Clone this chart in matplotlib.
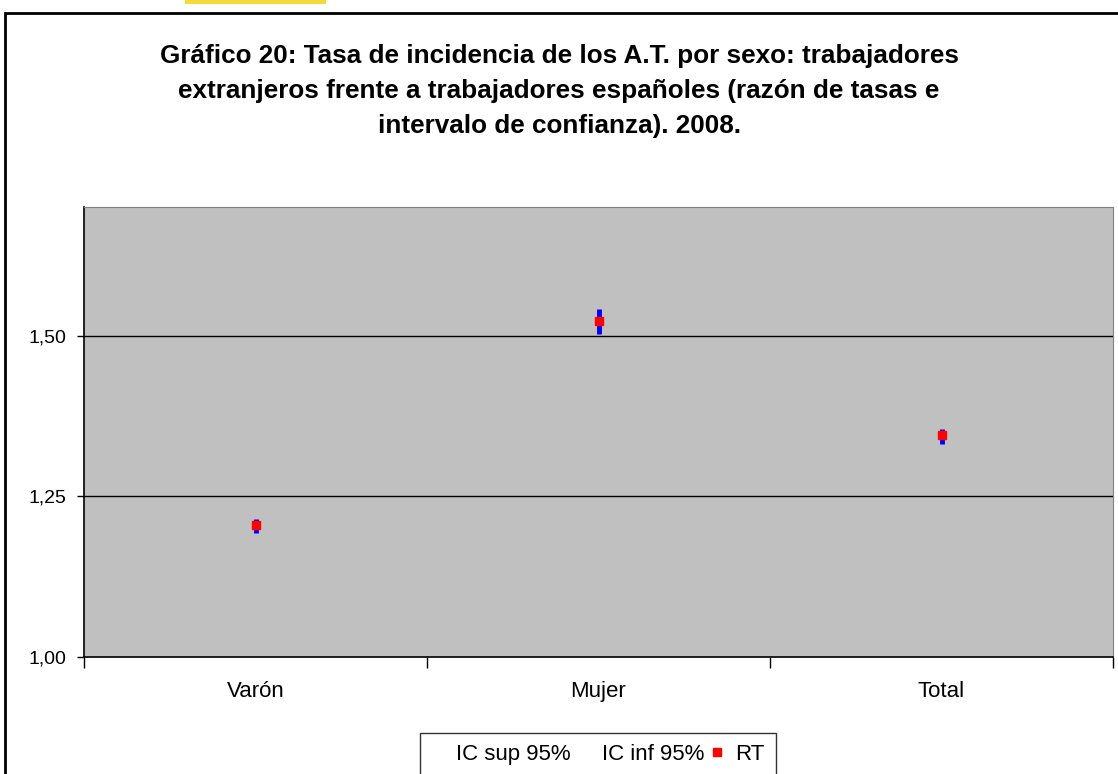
import numpy as np
import matplotlib.pyplot as plt
from matplotlib.lines import Line2D
from matplotlib.patches import Rectangle

plt.rcParams['font.family'] = ['Liberation Sans', 'DejaVu Sans']

# datos
categorias = ["Varón", "Mujer", "Total"]
rt = [1.205, 1.522, 1.345]
ic_sup = [1.214, 1.542, 1.354]
ic_inf = [1.193, 1.502, 1.331]
yticks = [1.00, 1.25, 1.50]
ytick_labels = ["1,00", "1,25", "1,50"]
titulo = ("Gráfico 20: Tasa de incidencia de los A.T. por sexo: trabajadores\n"
          "extranjeros frente a trabajadores españoles (razón de tasas e\n"
          "intervalo de confianza). 2008.")

fig = plt.figure(figsize=(11.18, 7.74), dpi=100)

# marco exterior y barra amarilla de arriba
fig.patches.append(Rectangle((5/1118, -0.05), 1.2, 1 - 13/774 + 0.05,
                             transform=fig.transFigure, fill=False,
                             edgecolor='black', linewidth=2))
fig.patches.append(Rectangle((185/1118, 1 - 4/774), 141/1118, 4/774,
                             transform=fig.transFigure, facecolor='#F5DA3C',
                             edgecolor='none'))

ax = fig.add_axes([84/1118, 117/774, 1029/1118, 450/774])
ax.set_facecolor('#C0C0C0')

x = np.arange(1, len(categorias) + 1)
ax.vlines(x, ic_inf, ic_sup, color='blue', linewidth=3.5, zorder=3)
ax.plot(x, rt, linestyle='none', marker='s', color='red', markersize=5.5, zorder=4)

ax.set_xlim(0.5, len(categorias) + 0.5)
ax.set_ylim(1.0, 1.70)

ax.set_yticks(yticks)
ax.set_yticklabels(ytick_labels)
ax.tick_params(axis='y', direction='out', length=5, width=1, pad=8, labelsize=14)
for yv in yticks[1:]:
    ax.axhline(yv, color='black', linewidth=1, zorder=1)

ax.set_xticks(np.arange(0.5, len(categorias) + 1, 1.0))
ax.set_xticklabels([])
ax.set_xticks(x, minor=True)
ax.set_xticklabels(categorias, minor=True)
ax.tick_params(axis='x', which='major', direction='out', length=8, width=1)
ax.tick_params(axis='x', which='minor', length=0, pad=17, labelsize=16)

for s in ['top', 'right']:
    ax.spines[s].set_color('#808080')
for s in ['left', 'bottom']:
    ax.spines[s].set_color('black')
    ax.spines[s].set_linewidth(1.2)

fig.text(0.5, 1 - 44/774, titulo, ha='center', va='top', fontsize=18.8,
         fontweight='bold', linespacing=1.57)

handles = [Line2D([], [], linestyle='none'),
           Line2D([], [], linestyle='none'),
           Line2D([], [], linestyle='none', marker='s', color='red', markersize=5.5)]
leg = fig.legend(handles, ["IC sup 95%", "IC inf 95%", "RT"], ncol=3,
                 loc='upper center', bbox_to_anchor=(598/1118, 1 - 733/774),
                 fontsize=16, frameon=True, fancybox=False, edgecolor='black',
                 handlelength=0.6, handletextpad=0.5, columnspacing=0.3,
                 borderpad=0.5, borderaxespad=0)
leg.get_frame().set_linewidth(1)

plt.savefig("out.png", dpi=100)
